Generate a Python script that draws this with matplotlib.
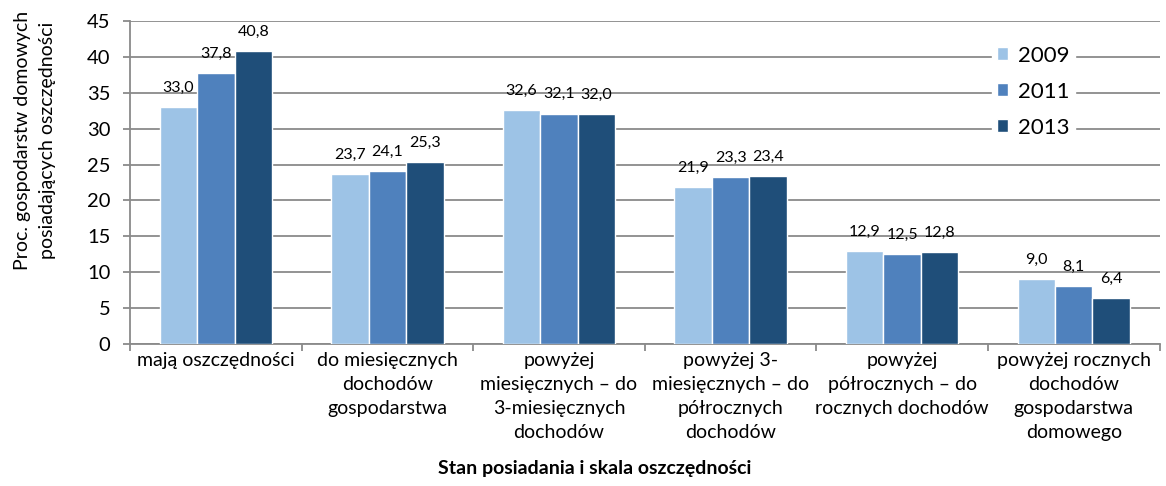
import numpy as np
import matplotlib
matplotlib.use("Agg")
from matplotlib import pyplot as plt

plt.rcParams['font.family'] = ['Lato', 'DejaVu Sans']

categories = ['mają oszczędności',
              'do miesięcznych\ndochodów\ngospodarstwa',
              'powyżej\nmiesięcznych – do\n3-miesięcznych\ndochodów',
              'powyżej 3-\nmiesięcznych – do\npółrocznych\ndochodów',
              'powyżej\npółrocznych – do\nrocznych dochodów',
              'powyżej rocznych\ndochodów\ngospodarstwa\ndomowego']
years = ['2009', '2011', '2013']
v2009 = [33.0, 23.7, 32.6, 21.9, 12.9, 9.0]
v2011 = [37.8, 24.1, 32.1, 23.3, 12.5, 8.1]
v2013 = [40.8, 25.3, 32.0, 23.4, 12.8, 6.4]
colors = ['#9DC3E6', '#4F81BD', '#1F4E79']

fig = plt.figure(figsize=(11.66, 4.86), dpi=100)
ax = fig.add_axes([0.1115, 0.292, 0.883, 0.665])

x = np.arange(len(categories))
w = 0.218
for i, (vals, yr) in enumerate(zip([v2009, v2011, v2013], years)):
    pos = x + (i - 1) * w
    ax.bar(pos, vals, w, color=colors[i], edgecolor='white',
           linewidth=1, label=yr, zorder=3)
    for p, v in zip(pos, vals):
        ax.text(p, v + 1.7, f'{v:.1f}'.replace('.', ','),
                ha='center', va='bottom', fontsize=11.5, zorder=4)

ax.set_xlim(-0.5, len(categories) - 0.5)
ax.set_ylim(0, 45)
ax.set_yticks(np.arange(0, 46, 5))
ax.yaxis.grid(True, color='#8a8a8a', linewidth=1.3, zorder=0)
ax.set_axisbelow(True)
for s in ['top', 'right']:
    ax.spines[s].set_visible(False)
ax.spines['left'].set_color('#8a8a8a')
ax.spines['bottom'].set_color('#8a8a8a')
ax.spines['left'].set_linewidth(1.3)
ax.spines['bottom'].set_linewidth(1.3)

ax.set_xticks(x)
ax.set_xticklabels(categories, fontsize=14, linespacing=1.5, va='top')
ax.set_xticks(np.arange(-0.5, len(categories), 1), minor=True)
ax.tick_params(axis='x', which='major', length=0, pad=6)
ax.tick_params(axis='x', which='minor', length=5, color='#8a8a8a', width=1.3)
ax.tick_params(axis='y', length=5, color='#8a8a8a', width=1.3, labelsize=14.5, pad=9)

ax.set_ylabel('Proc. gospodarstw domowych\nposiadających oszczędności',
              fontsize=14, linespacing=1.55)
ax.yaxis.set_label_coords(-0.072, 0.63)
ax.set_xlabel('Stan posiadania i skala oszczędności', fontsize=14,
              fontweight='bold', va='center')
ax.xaxis.set_label_coords(0.451, -0.384)

leg = ax.legend(loc='upper left', bbox_to_anchor=(0.826, 0.975), frameon=True,
                fontsize=16, handlelength=0.5, handleheight=0.5,
                labelspacing=0.72, borderpad=0.25, handletextpad=0.45)
leg.get_frame().set_edgecolor('white')
leg.get_frame().set_facecolor('white')
leg.get_frame().set_alpha(1)
leg.get_frame().set_boxstyle('square', pad=0)

fig.savefig('out.png', dpi=100)
